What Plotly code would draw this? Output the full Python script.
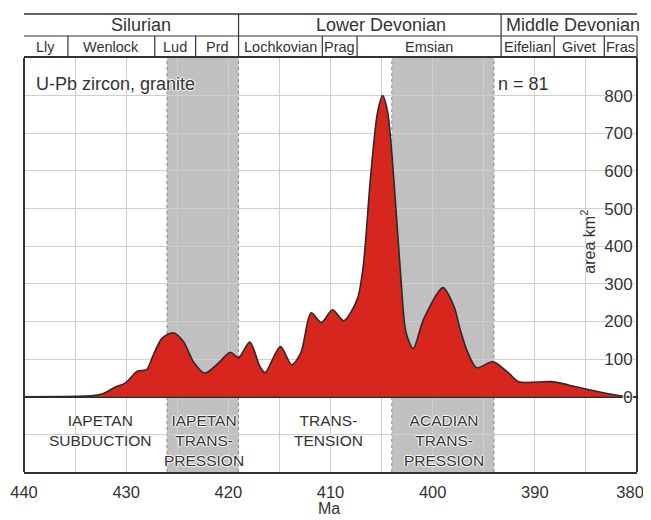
import plotly.graph_objects as go

# ---------------- data ----------------
ages = [440, 436, 434, 433.2, 432.3, 431.1, 430.1, 428.9, 428.0, 427.4, 426.5, 425.4,
        424.4, 423.4, 422.3, 421.1, 419.8, 419.0, 417.9, 416.9, 416.4, 414.9, 413.8,
        412.9, 411.9, 410.9, 409.8, 408.7, 407.4, 406.8, 406.1, 405.4, 404.9, 404.4,
        403.8, 403.1, 402.6, 401.9, 400.9, 399.0, 397.9, 397.3, 396.6, 395.7, 394.1,
        392.6, 391.6, 388.4, 386.8, 384.8, 382.8, 381.4, 380]
area = [0, 0.5, 1.5, 3, 8, 25, 36, 68, 72, 107, 155, 170,
        147, 92, 63, 86, 118, 104, 145, 80, 64, 133, 85,
        117, 223, 197, 231, 202, 258, 346, 577, 755, 800, 755,
        577, 311, 170, 128, 205, 290, 239, 178, 120, 77, 93,
        64, 40, 40, 32, 19, 8, 2, 0]

series_names = ["Silurian", "Lower Devonian", "Middle Devonian"]
series_bounds = [440, 419, 393.3, 380]
series_label_at = [428.5, 405.1, 386.3]

stage_names = ["Lly", "Wenlock", "Lud", "Prd", "Lochkovian", "Prag", "Emsian",
               "Eifelian", "Givet", "Fras"]
stage_bounds = [440, 435.7, 427.2, 423.2, 419, 410.8, 407.4, 393.3, 388.1, 383.2, 380]

band_starts = [426, 404]
band_ends = [419, 394]

tect_labels = ["IAPETAN<br>SUBDUCTION", "IAPETAN<br>TRANS-<br>PRESSION",
               "TRANS-<br>TENSION", "ACADIAN<br>TRANS-<br>PRESSION"]
tect_at = [432.6, 422.4, 410.2, 398.9]

x_ticks = [440, 430, 420, 410, 400, 390, 380]
x_tick_labels = ["440", "430", "420", "410", "400", "390", "380\u00a0\u00a0\u00a0"]
y_ticks = [0, 100, 200, 300, 400, 500, 600, 700, 800]

# ---------------- layout constants ----------------
# page body has an 8px margin; the figure is offset by it
W, H = 660, 530
OFF = 8
REF_L, REF_R, REF_T, REF_B = 24, 637, 58, 472   # plot box in window pixels
L, T = REF_L - OFF, REF_T - OFF
R = W - (REF_R - OFF)
B = H - (REF_B - OFF)
PH = REF_B - REF_T
FONT = "Liberation Sans, Arial, sans-serif"
TXT = "#333333"
LINE = "#333333"
GRID = "#cfcfcf"


def py(p):
    """window pixel row -> paper y"""
    return (REF_B - p) / PH


def px(ma):
    """age -> paper x (reversed axis 440..380)"""
    return (440 - ma) / 60.0


halo = ("1px 0px 1px white, -1px 0px 1px white, 0px 1px 1px white, "
        "0px -1px 1px white")

fig = go.Figure()

fig.add_trace(go.Scatter(
    x=ages, y=area, mode="lines",
    line=dict(color="#2a2a2a", width=1.6, shape="spline", smoothing=0.8),
    fill="tozeroy", fillcolor="#D7261E",
    hoverinfo="skip", showlegend=False,
))

shapes = []
# grey bands
for s, e in zip(band_starts, band_ends):
    shapes.append(dict(type="rect", xref="x", yref="paper", x0=s, x1=e, y0=0, y1=1,
                       fillcolor="#c0c0c0", line=dict(width=0), layer="between"))
    for xx in (s, e):
        shapes.append(dict(type="line", xref="x", yref="paper", x0=xx, x1=xx, y0=0, y1=1,
                           line=dict(color="#8a8a8a", width=1, dash="dot"), layer="between"))

# left frame edge
shapes.append(dict(type="line", xref="paper", yref="paper", x0=0, x1=0, y0=0, y1=1,
                   line=dict(color=LINE, width=2)))

# header rows
y_top, y_mid, y_bot = py(14), py(36), py(58)
shapes.append(dict(type="line", xref="paper", yref="paper", x0=0, x1=1, y0=y_top, y1=y_top,
                   line=dict(color=LINE, width=1.6)))
shapes.append(dict(type="line", xref="paper", yref="paper", x0=0, x1=1, y0=y_mid, y1=y_mid,
                   line=dict(color=LINE, width=1.2)))
for b in series_bounds[1:-1]:
    shapes.append(dict(type="line", xref="paper", yref="paper", x0=px(b), x1=px(b),
                       y0=y_mid, y1=y_top, line=dict(color=LINE, width=1.2)))
for b in stage_bounds[1:]:
    shapes.append(dict(type="line", xref="paper", yref="paper", x0=px(b), x1=px(b),
                       y0=y_bot, y1=y_mid, line=dict(color=LINE, width=1.2)))

annotations = []
for name, at in zip(series_names, series_label_at):
    annotations.append(dict(text=name, xref="paper", yref="paper", x=px(at), y=py(25),
                            xanchor="center", yanchor="middle", showarrow=False,
                            font=dict(family=FONT, size=18, color=TXT)))
for i, name in enumerate(stage_names):
    c = (stage_bounds[i] + stage_bounds[i + 1]) / 2
    annotations.append(dict(text=name, xref="paper", yref="paper", x=px(c), y=py(47),
                            xanchor="center", yanchor="middle", showarrow=False,
                            font=dict(family=FONT, size=14.5, color=TXT)))

for lab, at in zip(tect_labels, tect_at):
    annotations.append(dict(text=lab, xref="x", yref="y", x=at, y=-36,
                            xanchor="center", yanchor="top", showarrow=False,
                            font=dict(family=FONT, size=15.5, color=TXT, shadow=halo)))

annotations.append(dict(text="U-Pb zircon, granite", xref="x", yref="y", x=439.0, y=830,
                        xanchor="left", yanchor="middle", showarrow=False,
                        font=dict(family=FONT, size=18, color=TXT, shadow=halo)))
annotations.append(dict(text="n = 81", xref="x", yref="y", x=393.8, y=830,
                        xanchor="left", yanchor="middle", showarrow=False,
                        font=dict(family=FONT, size=18, color=TXT, shadow=halo)))
annotations.append(dict(text="area km<sup>2</sup>", xref="x", yref="y", x=384.8, y=412,
                        xanchor="center", yanchor="middle", textangle=-90, showarrow=False,
                        font=dict(family=FONT, size=16, color=TXT, shadow=halo)))
# x-axis title
annotations.append(dict(text="Ma", xref="x", yref="paper", x=410.1, y=py(508),
                        xanchor="center", yanchor="middle", showarrow=False,
                        font=dict(family=FONT, size=16, color=TXT)))

fig.update_layout(
    width=W, height=H, autosize=False,
    margin=dict(l=L, r=R, t=T, b=B, pad=0, autoexpand=False),
    paper_bgcolor="white", plot_bgcolor="white",
    font=dict(family=FONT, color=TXT),
    shapes=shapes, annotations=annotations,
    showlegend=False,
)

fig.update_xaxes(
    range=[440, 380], tickvals=x_ticks, ticktext=x_tick_labels, ticks="",
    showgrid=True, gridcolor=GRID, gridwidth=1,
    minor=dict(dtick=5, tick0=380, showgrid=True, gridcolor=GRID, gridwidth=1),
    showline=True, mirror=True, linecolor=LINE, linewidth=1.8, zeroline=False,
    tickfont=dict(family=FONT, size=16.5, color=TXT), ticklabelstandoff=4,
    ticklabeloverflow="allow", automargin=False,
)
fig.update_yaxes(
    range=[-200, 900], anchor="free", position=1, side="left",
    tickvals=y_ticks, ticks="",
    showgrid=True, gridcolor=GRID, gridwidth=1,
    minor=dict(dtick=100, tick0=0, showgrid=True, gridcolor=GRID, gridwidth=1),
    showline=True, linecolor=LINE, linewidth=1.8, automargin=False,
    zeroline=True, zerolinecolor="#2a2a2a", zerolinewidth=2.2,
    tickfont=dict(family=FONT, size=17, color=TXT, shadow=halo),
)

fig.write_html("out.html")
